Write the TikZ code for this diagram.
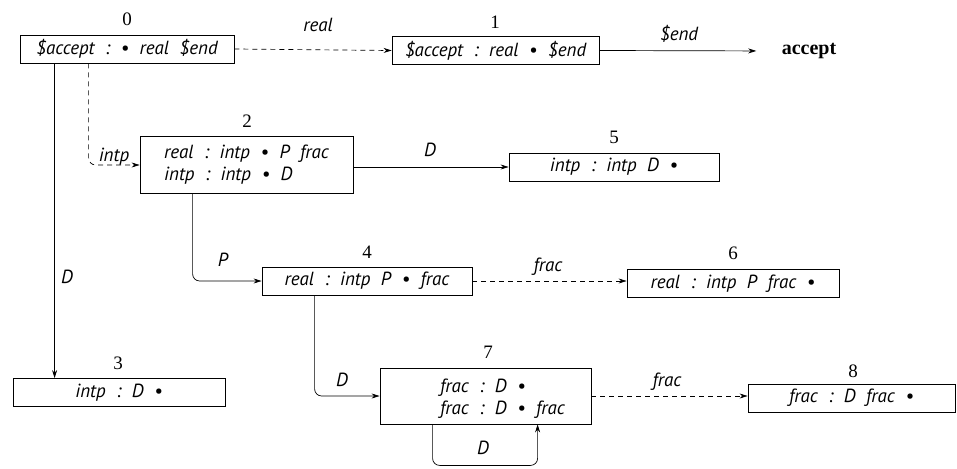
\documentclass[tikz,border=0pt]{standalone}
\usepackage{fontspec}
\setmainfont{Liberation Serif}
\newfontfamily\itf{PT Sans}
\usetikzlibrary{arrows.meta}
\newcommand{\bt}{\itf\itshape\fontsize{19}{22}\selectfont}
\newcommand{\gp}{\hspace{0.55em}}
\begin{document}
\begin{tikzpicture}[x=1pt,y=-1pt,
  box/.style={draw, line width=0.8pt, inner sep=0pt, minimum height=28pt, font=\bt},
  num/.style={font=\fontsize{19}{21}\selectfont},
  lab/.style={font=\bt},
  arr/.style={line width=0.7pt, -{Stealth[length=8pt,width=5pt]}},
  darr/.style={arr, dash pattern=on 5pt off 4pt},
  rc/.style={rounded corners=7pt}]
\useasboundingbox (0,0) rectangle (957,468);

% boxes
\node[box, minimum width=214pt] (b0) at (127,49) {\$accept\gp:\gp•\gp real\gp\$end};
\node[box, minimum width=207pt] (b1) at (495.5,50.5) {\$accept\gp:\gp real\gp•\gp\$end};
\node[font=\bfseries\fontsize{20}{22}\selectfont] (acc) at (809,51) {accept};
\node[box, minimum width=213pt, minimum height=57pt, align=left] (b2) at (246.5,165) {real\gp:\gp intp\gp•\gp P\gp frac\\intp\gp:\gp intp\gp•\gp D};
\node[box, minimum width=212pt] (b3) at (119,392.5) {intp\gp:\gp D\gp•};
\node[box, minimum width=210pt] (b4) at (367,281) {real\gp:\gp intp\gp P\gp•\gp frac};
\node[box, minimum width=210pt] (b5) at (614,167) {intp\gp:\gp intp\gp D\gp•};
\node[box, minimum width=212pt] (b6) at (733,283.5) {real\gp:\gp intp\gp P\gp frac\gp•};
\node[box, minimum width=211pt, minimum height=56pt] (b7) at (485.5,396) {};
\node[lab, anchor=west, align=left, inner sep=0pt] (t7) at (440,399) {frac\gp:\gp D\gp•\\frac\gp:\gp D\gp•\gp frac};
\node[box, minimum width=207pt] (b8) at (851.5,398) {frac\gp:\gp D\gp frac\gp•};

% state numbers
\node[num] (n0) at (127,19) {0};
\node[num] (n1) at (495,22) {1};
\node[num] (n2) at (247,121) {2};
\node[num] (n3) at (118,363) {3};
\node[num] (n4) at (367,252) {4};
\node[num] (n5) at (614,137) {5};
\node[num] (n6) at (733,253) {6};
\node[num] (n7) at (488,352) {7};
\node[num] (n8) at (853,371) {8};

% transitions
\draw[darr] (b0.east) -- (b1.west);
\draw[arr, shorten >=22pt] (b1.east) -- (acc.west);
\draw[darr, rc] ([xshift=69pt]b0.south west) |- (b2.west);
\draw[arr] ([xshift=35pt]b0.south west) -- ([xshift=42pt]b3.north west);
\draw[arr] (b2.east |- b5.west) -- (b5.west);
\draw[arr, rc] ([xshift=53pt]b2.south west) |- (b4.west);
\draw[darr] (b4.east) -- (b4.east -| b6.west);
\draw[arr, rc] ([xshift=53pt]b4.south west) |- (b7.west);
\draw[arr, rc] ([xshift=53pt]b7.south west) -- ++(0,41) -| ([xshift=158pt]b7.south west);
\draw[darr] (b7.east) -- (b7.east -| b8.west);

% transition labels
\node[lab] (l01) at (318,25) {real};
\node[lab] (l1a) at (679,34) {\$end};
\node[lab] (l02) at (114,157) {intp};
\node[lab] (l03) at (67,277) {D};
\node[lab] (l25) at (430,150) {D};
\node[lab] (l24) at (223,260) {P};
\node[lab] (l46) at (548,267) {frac};
\node[lab] (l47) at (342,380) {D};
\node[lab] (l77) at (483,448) {D};
\node[lab] (l78) at (667,382) {frac};
\end{tikzpicture}
\end{document}
